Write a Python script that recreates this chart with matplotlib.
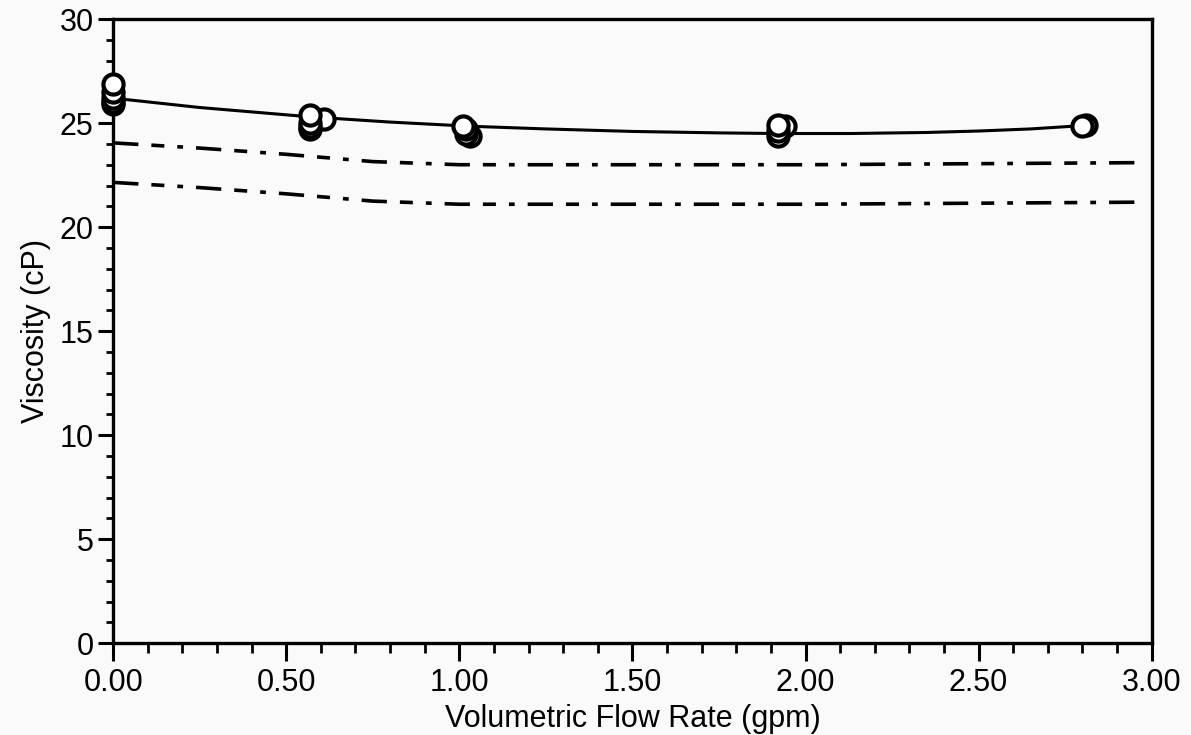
import numpy as np
import matplotlib as mpl
mpl.use('Agg')
import matplotlib.pyplot as plt
from matplotlib.ticker import MultipleLocator, FormatStrFormatter

plt.rcParams['font.family'] = ['Liberation Sans', 'DejaVu Sans']

# measured viscosity points (gpm, cP), drawn in this order
flow_pts = [0.0, 0.0, 0.0, 0.0, 0.0,
            0.61, 0.57, 0.57, 0.57, 0.57,
            1.03, 1.02, 1.02, 1.01,
            1.94, 1.92, 1.92, 1.92,
            2.81, 2.80]
visc_pts = [25.9, 26.0, 26.2, 26.5, 26.9,
            25.2, 24.7, 24.8, 25.0, 25.4,
            24.4, 24.5, 24.7, 24.85,
            24.85, 24.4, 24.6, 24.9,
            24.9, 24.85]

# fitted curve (solid)
fit_x = [0.0, 0.25, 0.57, 0.8, 1.03, 1.25, 1.5, 1.75, 1.92, 2.13, 2.35, 2.5, 2.65, 2.8]
fit_y = [26.2, 25.75, 25.3, 25.05, 24.85, 24.72, 24.6, 24.53, 24.5, 24.5, 24.55, 24.62, 24.72, 24.88]

# dash-dot bounds
band_x = [0.0, 0.25, 0.5, 0.75, 1.0, 1.5, 2.0, 2.5, 2.97]
upper_y = [24.05, 23.8, 23.5, 23.15, 23.0, 23.0, 23.0, 23.05, 23.1]
lower_y = [22.15, 21.9, 21.6, 21.25, 21.1, 21.1, 21.1, 21.15, 21.2]

fig = plt.figure(figsize=(11.91, 7.35), dpi=100, facecolor='#fafafa')
ax = fig.add_axes([0.095, 0.125, 0.872, 0.849])
ax.set_facecolor('#fafafa')

dash = (0, (7, 3.6, 3.6, 3.6, 1.6, 3.6))
for yy in (upper_y, lower_y):
    ax.plot(band_x, yy, color='black', lw=2.6, linestyle=dash,
            dash_capstyle='butt')

ax.plot(fit_x, fit_y, color='black', lw=2.2)

for x, y in zip(flow_pts, visc_pts):
    ax.plot([x], [y], 'o', ms=14.5, mfc='white', mec='black', mew=3,
            clip_on=False, zorder=5)

ax.set_xlim(0, 3)
ax.set_ylim(0, 30)
ax.xaxis.set_major_locator(MultipleLocator(0.5))
ax.xaxis.set_minor_locator(MultipleLocator(0.1))
ax.xaxis.set_major_formatter(FormatStrFormatter('%.2f'))
ax.yaxis.set_major_locator(MultipleLocator(5))
ax.yaxis.set_minor_locator(MultipleLocator(1))

for s in ax.spines.values():
    s.set_linewidth(2.4)

ax.tick_params(axis='x', which='major', direction='out', length=13, width=2.2,
               labelsize=22, pad=5)
ax.tick_params(axis='x', which='minor', direction='out', length=7, width=2)
ax.tick_params(axis='y', which='major', direction='out', length=11, width=2.2,
               labelsize=22, pad=3)
ax.tick_params(axis='y', which='minor', direction='out', length=5, width=2)

ax.set_xlabel('Volumetric Flow Rate (gpm)', fontsize=22, labelpad=4)
ax.set_ylabel('Viscosity (cP)', fontsize=22, labelpad=6)

fig.savefig('out.png', dpi=100, facecolor=fig.get_facecolor())
